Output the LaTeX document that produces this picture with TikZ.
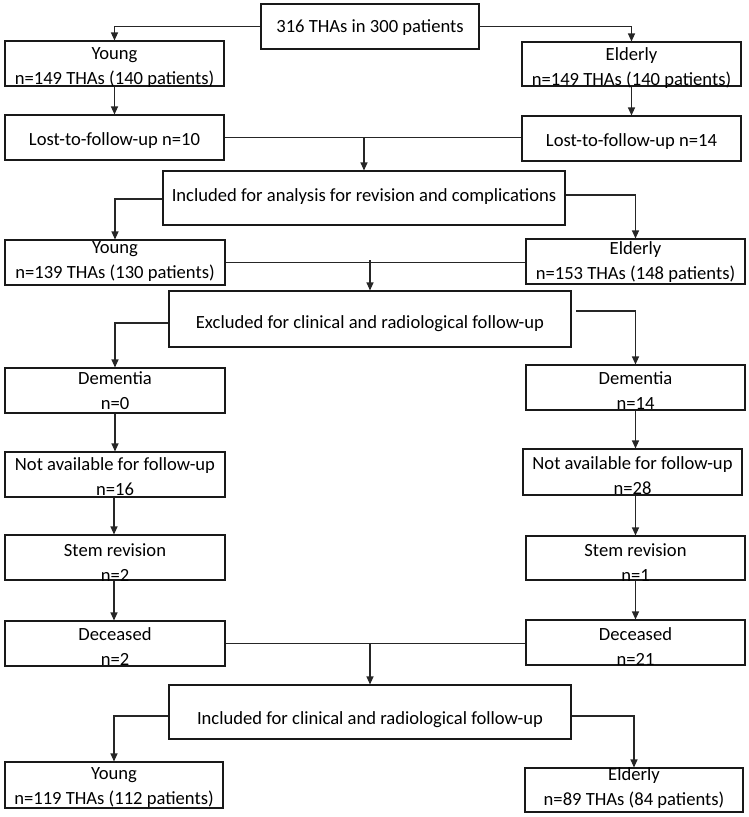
\documentclass[tikz,border=0pt]{standalone}
\usepackage{fontspec}
\setmainfont{Carlito}
\usetikzlibrary{arrows.meta}
\tikzset{
  boxst/.style={draw=black!90, line width=1.1pt, rectangle, inner sep=0pt},
  txt/.style={inner sep=0pt, align=center, font=\fontsize{18.6}{25}\selectfont},
  conn/.style={draw=black!85, line width=1.1pt},
  arr/.style={conn, -{Triangle[width=7pt,length=8pt]}}
}
\newcommand\bx[7]{%
  \pgfmathsetmacro\bcx{(#2+#4)/2}%
  \pgfmathsetmacro\bcy{(#3+#5)/2}%
  \pgfmathsetmacro\bw{#4-#2}%
  \pgfmathsetmacro\bh{#5-#3}%
  \node[boxst, minimum width=\bw pt, minimum height=\bh pt] (#1) at (\bcx pt,-\bcy pt) {};
  \node[txt] (#1-t) at (\bcx pt,-#6 pt) {#7};
}
\begin{document}
\begin{tikzpicture}[x=1pt,y=1pt]
\useasboundingbox (0,0) rectangle (749,-817);
\bx{top}{261}{4}{479}{49}{28}{316 THAs in 300 patients}
\bx{young1}{5}{41}{224}{86}{68}{Young\\n=149 THAs (140 patients)}
\bx{elderly1}{522}{42}{741}{86}{68}{Elderly\\n=149 THAs (140 patients)}
\bx{lostY}{5}{115}{224}{160}{141}{Lost-to-follow-up n=10}
\bx{lostE}{522}{116}{741}{161}{142}{Lost-to-follow-up n=14}
\bx{incl1}{163}{171}{565}{225}{197}{Included for analysis for revision and complications}
\bx{young2}{5}{240}{225}{285}{262}{Young\\n=139 THAs (130 patients)}
\bx{elderly2}{526}{239}{745}{284}{262}{Elderly\\n=153 THAs (148 patients)}
\bx{excl}{169}{291}{571}{347}{324}{Excluded for clinical and radiological follow-up}
\bx{demY}{5}{368}{225}{413}{391}{Dementia\\n=0}
\bx{demE}{526}{365}{745}{410}{391}{Dementia\\n=14}
\bx{naY}{5}{452}{225}{497}{477}{Not available for follow-up\\n=16}
\bx{naE}{523}{449}{742}{495}{476}{Not available for follow-up\\n=28}
\bx{stemY}{5}{535}{225}{580}{563}{Stem revision\\n=2}
\bx{stemE}{526}{536}{745}{580}{563}{Stem revision\\n=1}
\bx{decY}{5}{621}{225}{666}{647}{Deceased\\n=2}
\bx{decE}{526}{620}{745}{665}{647}{Deceased\\n=21}
\bx{incl2}{169}{685}{571}{739}{720}{Included for clinical and radiological follow-up}
\bx{young3}{5}{762}{223}{808}{788}{Young\\n=119 THAs (112 patients)}
\bx{elderly3}{525}{768}{743}{812}{788}{Elderly\\n=89 THAs (84 patients)}
% connectors
\draw[arr] (top.west) -| (young1.north);
\draw[arr] (top.east) -| (elderly1.north);
\draw[arr] (young1.south) -- (lostY.north);
\draw[arr] (elderly1.south) -- (lostE.north);
\draw[conn] (lostY.east) -- (lostY.east -| lostE.west);
\coordinate (m1) at (364,-137.5);
\draw[arr] (m1) -- (m1 |- incl1.north);
\draw[arr] ([yshift=-1pt]incl1.west) -| (young2.north);
\draw[arr] ([yshift=3pt]incl1.east) -| (elderly2.north);
\draw[conn] (young2.east) -- (young2.east -| elderly2.west);
\coordinate (m2) at (370,-260);
\draw[arr] (m2) -- (m2 |- excl.north);
\draw[arr] ([yshift=-4pt]excl.west) -| (demY.north);
\coordinate (c1) at (576,-311);
\draw[arr] (c1) -| (demE.north);
\draw[arr] (demY.south) -- (naY.north);
\draw[arr] (demE.south) -- (demE.south |- naE.north);
\draw[arr] ([xshift=-1pt]naY.south) -- ([xshift=-1pt]stemY.north);
\draw[arr] (naE.south -| stemE.north) -- (stemE.north);
\draw[arr] ([xshift=-1pt]stemY.south) -- ([xshift=-1pt]decY.north);
\draw[arr] (stemE.south) -- (decE.north);
\draw[conn] (decY.east) -- (decY.east -| decE.west);
\coordinate (m3) at (370,-643);
\draw[arr] (m3) -- (m3 |- incl2.north);
\draw[arr] ([yshift=-4pt]incl2.west) -| (young3.north);
\draw[arr] ([yshift=-4pt]incl2.east) -| (elderly3.north);
\end{tikzpicture}
\end{document}
